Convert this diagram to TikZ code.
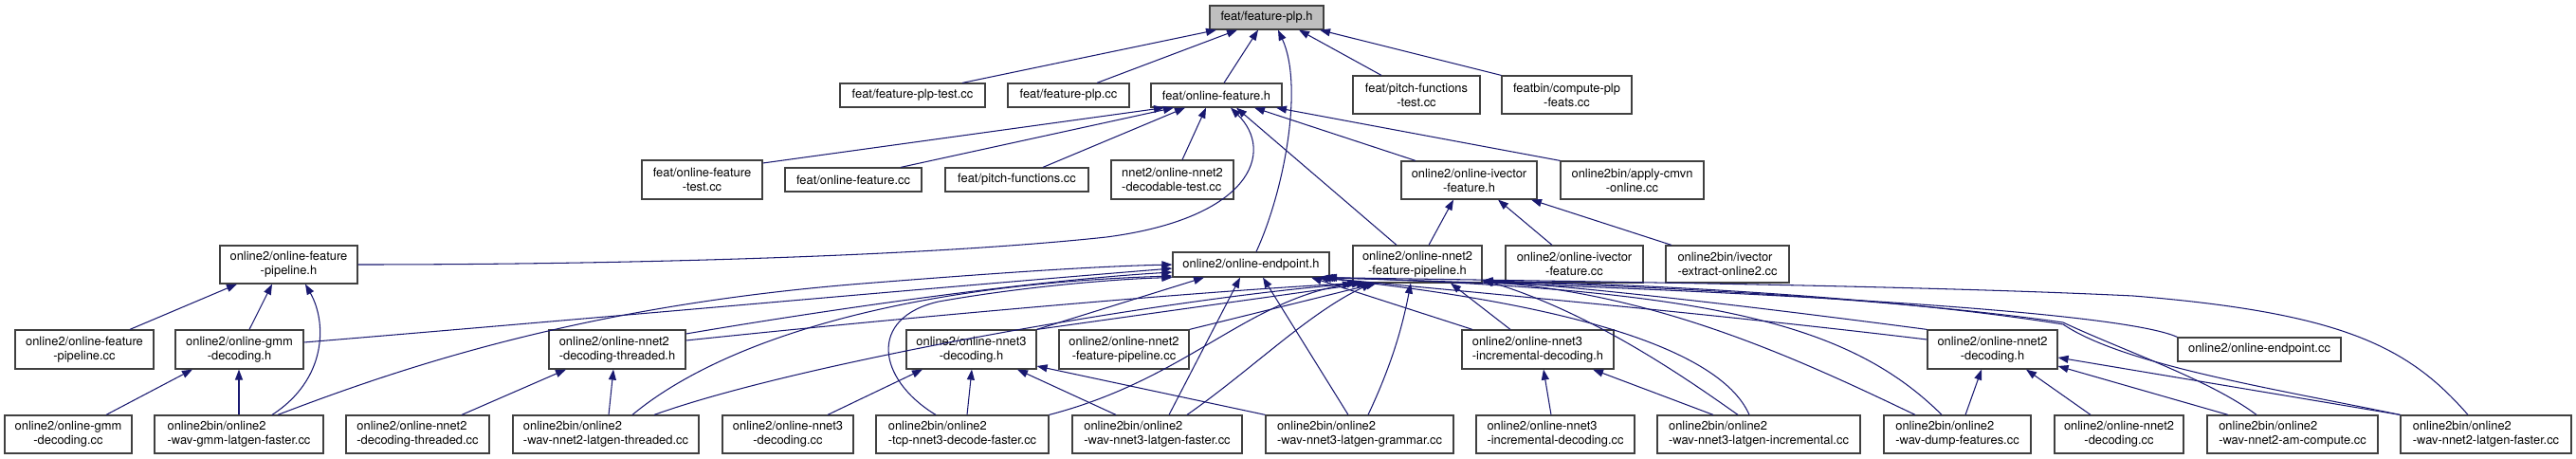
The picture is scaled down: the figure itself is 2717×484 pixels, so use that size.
\documentclass[tikz,border=0pt]{standalone}
\usepackage{fontspec}
\setmainfont{TeX Gyre Heros}
\usetikzlibrary{arrows.meta}
\definecolor{mblue}{HTML}{191970}
\definecolor{boxline}{HTML}{404040}
\tikzset{
  box/.style={draw=boxline, line width=1.2pt, fill=white, inner sep=0pt,
    font=\fontsize{12.9}{15}\selectfont},
  edge/.style={color=mblue, line width=1.05pt, -{Triangle[length=11pt,width=8pt]}}
}
\newcommand\bx[7][center]{\node[box,align=#1,minimum width={(#5-#3)*1pt},minimum height={(#6-#4)*1pt}] (#2) at ({(#3+#5)/2},{(#4+#6)/2}) {#7};}
\begin{document}
\begin{tikzpicture}[x=1pt,y=-1pt]
\useasboundingbox (0,0) rectangle (2717,484);
% row 0
\node[box,fill=black!25,minimum width=120pt,minimum height=25pt] (plph) at (1336,18.5) {feat/feature-plp.h};
% row 1
\bx{plptest}{886}{88}{1039}{113}{feat/feature-plp-test.cc}
\bx{plpcc}{1063}{88}{1191}{113}{feat/feature-plp.cc}
\bx{ofh}{1214}{88}{1352}{113}{feat/online-feature.h}
\bx{pftest}{1427}{80}{1561}{120}{feat/pitch-functions\\-test.cc}
\bx{cplp}{1584}{80}{1721}{120}{featbin/compute-plp\\-feats.cc}
% row 2
\bx{oftest}{677}{169}{804}{210}{feat/online-feature\\-test.cc}
\bx{ofcc}{828}{177}{972}{202}{feat/online-feature.cc}
\bx{pfcc}{997}{177}{1148}{202}{feat/pitch-functions.cc}
\bx[left]{dectest}{1172}{169}{1301}{210}{nnet2/online-nnet2\\-decodable-test.cc}
\bx{ivh}{1478}{170}{1621}{210}{online2/online-ivector\\-feature.h}
\bx{cmvn}{1646}{170}{1797}{210}{online2bin/apply-cmvn\\-online.cc}
% row 3
\bx{pipeh}{232}{259}{377}{299}{online2/online-feature\\-pipeline.h}
\bx{endph}{1237}{266}{1402}{292}{online2/online-endpoint.h}
\bx{n2fph}{1427}{259}{1563}{298}{online2/online-nnet2\\-feature-pipeline.h}
\bx{ivcc}{1588}{259}{1733}{298}{online2/online-ivector\\-feature.cc}
\bx[left]{ivext}{1757}{259}{1887}{298}{online2bin/ivector\\-extract-online2.cc}
% row 4
\bx{pipecc}{16}{348}{162}{389}{online2/online-feature\\-pipeline.cc}
\bx{gmmh}{185}{348}{320}{389}{online2/online-gmm\\-decoding.h}
\bx[left]{n2dth}{579}{348}{723}{389}{online2/online-nnet2\\-decoding-threaded.h}
\bx{n3dh}{956}{348}{1093}{389}{online2/online-nnet3\\-decoding.h}
\bx{n2fpcc}{1117}{348}{1254}{389}{online2/online-nnet2\\-feature-pipeline.cc}
\bx[left]{incrh}{1542}{348}{1702}{389}{online2/online-nnet3\\-incremental-decoding.h}
\bx{n2dh}{2033}{348}{2170}{389}{online2/online-nnet2\\-decoding.h}
\bx{epcc}{2297}{356}{2469}{381}{online2/online-endpoint.cc}
% row 5
\bx{gmmcc}{5}{438}{139}{478}{online2/online-gmm\\-decoding.cc}
\bx[left]{gmmlf}{163}{438}{341}{478}{online2bin/online2\\-wav-gmm-latgen-faster.cc}
\bx[left]{n2dtcc}{365}{438}{516}{478}{online2/online-nnet2\\-decoding-threaded.cc}
\bx[left]{n2lt}{541}{438}{737}{478}{online2bin/online2\\-wav-nnet2-latgen-threaded.cc}
\bx{n3dcc}{762}{438}{900}{478}{online2/online-nnet3\\-decoding.cc}
\bx[left]{tcp}{924}{438}{1106}{478}{online2bin/online2\\-tcp-nnet3-decode-faster.cc}
\bx[left]{n3lf}{1131}{438}{1310}{478}{online2bin/online2\\-wav-nnet3-latgen-faster.cc}
\bx[left]{n3lg}{1335}{438}{1533}{478}{online2bin/online2\\-wav-nnet3-latgen-grammar.cc}
\bx[left]{incrcc}{1557}{438}{1724}{478}{online2/online-nnet3\\-incremental-decoding.cc}
\bx[left]{n3li}{1748}{438}{1962}{478}{online2bin/online2\\-wav-nnet3-latgen-incremental.cc}
\bx[left]{dump}{1987}{438}{2142}{478}{online2bin/online2\\-wav-dump-features.cc}
\bx{n2dcc}{2167}{438}{2303}{478}{online2/online-nnet2\\-decoding.cc}
\bx[left]{amc}{2328}{438}{2508}{478}{online2bin/online2\\-wav-nnet2-am-compute.cc}
\bx[left]{n2lf}{2532}{438}{2712}{478}{online2bin/online2\\-wav-nnet2-latgen-faster.cc}

% edges into feature-plp.h
\draw[edge] (plptest.north -| 1015,0) -- (plph.south -| 1283,0);
\draw[edge] (plpcc.north -| 1157,0) -- (plph.south -| 1305,0);
\draw[edge] (ofh.north -| 1291,0) -- (plph.south -| 1327,0);
\draw[edge] (endph.north -| 1325,0) .. controls (1355,200) and (1375,90) .. (plph.south -| 1348,0);
\draw[edge] (pftest.north -| 1457,0) -- (plph.south -| 1370,0);
\draw[edge] (cplp.north west) -- (plph.south -| 1392,0);
% edges into online-feature.h
\draw[edge] (oftest.east |- 0,172) -- (ofh.south -| 1228,0);
\draw[edge] (ofcc.north -| 950,0) -- (ofh.south -| 1238,0);
\draw[edge] (pfcc.north -| 1100,0) -- (ofh.south -| 1250,0);
\draw[edge] (dectest.north -| 1247,0) -- (ofh.south -| 1272,0);
\draw[edge] (pipeh.east |- 0,279) .. controls (700,279) and (1000,268) .. (1167,250) .. controls (1320,230) and (1345,160) .. (ofh.south -| 1298,0);
\draw[edge] (n2fph.north -| 1473,0) -- (ofh.south -| 1304,0);
\draw[edge] (ivh.north -| 1493,0) -- (ofh.south -| 1323,0);
\draw[edge] (cmvn.north west) -- (ofh.south -| 1346,0);
% ivector-feature.h
\draw[edge] (n2fph.north -| 1507,0) -- (ivh.south -| 1533,0);
\draw[edge] (ivcc.north -| 1637,0) -- (ivh.south -| 1580,0);
\draw[edge] (ivext.north -| 1763,0) -- (ivh.south -| 1615,0);
% feature-pipeline.h
\draw[edge] (pipecc.north -| 137,0) -- (pipeh.south -| 250,0);
\draw[edge] (gmmh.north -| 263,0) -- (pipeh.south -| 287,0);
\draw[edge] (gmmlf.north -| 287,0) .. controls (345,400) and (345,340) .. (pipeh.south -| 322,0);
% gmm-decoding.h
\draw[edge] (gmmcc.north -| 112,0) -- (gmmh.south -| 203,0);
\draw[edge] (gmmlf.north -| 252,0) -- (gmmh.south -| 252,0);
% endpoint.h from the left
\draw[edge] (gmmh.east |- 0,361) .. controls (600,338) and (1000,302) .. (endph.west |- 0,283);
\draw[edge] (gmmlf.north -| 293,0) .. controls (430,385) and (620,322) .. (910,299) .. controls (1050,288) and (1150,281) .. (endph.west |- 0,279);
\draw[edge] (n2dth.east |- 0,352) .. controls (900,322) and (1100,295) .. (endph.west |- 0,287);
\draw[edge] (n2lt.north -| 667,0) .. controls (760,360) and (950,300) .. (endph.west |- 0,291);
\draw[edge] (tcp.north -| 987,0) .. controls (925,400) and (915,335) .. (990,318) .. controls (1080,302) and (1180,294) .. (endph.south west);
% nnet2-feature-pipeline.h from the left
\draw[edge] (n2dth.east |- 0,359) .. controls (1000,330) and (1300,305) .. (n2fph.south -| 1432,0);
\draw[edge] (n2lt.north -| 690,0) .. controls (850,380) and (1250,312) .. (n2fph.south -| 1437,0);
\draw[edge] (n2fpcc.north east) -- (n2fph.south -| 1452,0);
% nnet2-decoding-threaded.h
\draw[edge] (n2dtcc.north -| 487,0) -- (n2dth.south -| 597,0);
\draw[edge] (n2lt.north -| 642,0) -- (n2dth.south -| 647,0);
% nnet3-decoding.h
\draw[edge] (n3dh.north east) -- (endph.south -| 1270,0);
\draw[edge] (n3dh.north east) -- (n2fph.south -| 1442,0);
\draw[edge] (n3dcc.north -| 873,0) -- (n3dh.south -| 973,0);
\draw[edge] (tcp.north -| 1020,0) -- (n3dh.south -| 1025,0);
\draw[edge] (tcp.north east) .. controls (1250,400) and (1310,320) .. (n2fph.south -| 1427,0);
\draw[edge] (n3lf.north -| 1177,0) -- (n3dh.south -| 1073,0);
\draw[edge] (n3lf.north -| 1233,0) -- (endph.south -| 1308,0);
\draw[edge] (n3lf.north -| 1252,0) .. controls (1320,390) and (1380,330) .. (n2fph.south -| 1447,0);
\draw[edge] (n3lg.north west) -- (n3dh.east |- 0,386);
\draw[edge] (n3lg.north -| 1422,0) -- (endph.south -| 1332,0);
\draw[edge] (n3lg.north -| 1443,0) .. controls (1470,380) and (1480,340) .. (n2fph.south -| 1488,0);
% incremental decoding
\draw[edge] (incrh.north -| 1553,0) -- (endph.south -| 1383,0);
\draw[edge] (incrh.north -| 1593,0) -- (n2fph.south -| 1530,0);
\draw[edge] (incrcc.north -| 1636,0) -- (incrh.south -| 1628,0);
\draw[edge] (n3li.north -| 1807,0) -- (incrh.south -| 1680,0);
\draw[edge] (n3li.north -| 1845,0) .. controls (1820,380) and (1700,325) .. (endph.south -| 1390,0);
\draw[edge] (n3li.north -| 1833,0) .. controls (1780,400) and (1680,330) .. (n2fph.east |- 0,295);
% nnet2-decoding.h and right part
\draw[edge] (n2dh.west |- 0,358) .. controls (1800,330) and (1550,308) .. (endph.south -| 1393,0);
\draw[edge] (n2dh.north west) .. controls (1900,330) and (1700,305) .. (n2fph.east |- 0,296);
\draw[edge] (epcc.north west) .. controls (2240,330) and (1900,308) .. (endph.south -| 1395,0);
\draw[edge] (n2dcc.north -| 2205,0) -- (n2dh.south -| 2137,0);
\draw[edge] (dump.north -| 2073,0) -- (n2dh.south -| 2090,0);
\draw[edge] (dump.north -| 2020,0) .. controls (1900,380) and (1750,310) .. (n2fph.east |- 0,297);
\draw[edge] (dump.north -| 2048,0) .. controls (1950,340) and (1800,305) .. (endph.south -| 1397,0);
\draw[edge] (amc.north -| 2350,0) -- (n2dh.east |- 0,386);
\draw[edge] (amc.north -| 2380,0) .. controls (2330,400) and (2240,370) .. (2176,340) .. controls (2000,315) and (1750,302) .. (n2fph.east |- 0,297);
\draw[edge] (n2lf.north west) -- (n2dh.east |- 0,377);
\draw[edge] (n2lf.north -| 2603,0) .. controls (2540,365) and (2470,330) .. (2250,312) .. controls (2000,300) and (1600,296) .. (endph.south -| 1399,0);
\draw[edge] (n2lf.north west) .. controls (2400,410) and (2240,385) .. (2176,342) .. controls (2000,314) and (1750,300) .. (n2fph.east |- 0,296);
\end{tikzpicture}
\end{document}
